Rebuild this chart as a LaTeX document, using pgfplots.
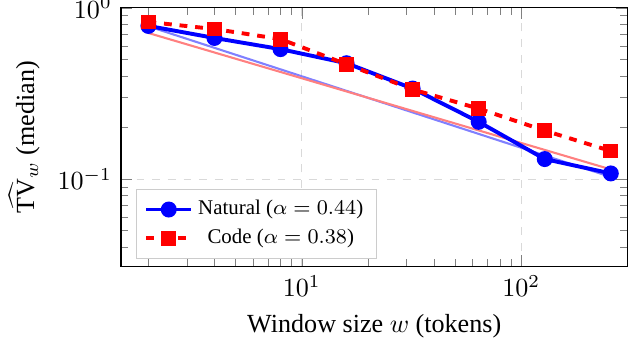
\documentclass[border=0pt]{standalone}
\usepackage{fontspec}
\setmainfont{Liberation Serif}
\usepackage{pgfplots}
\pgfplotsset{compat=1.18}
\begin{document}
\begin{tikzpicture}
\begin{axis}[
  xmode=log, ymode=log,
  scale only axis,
  width=194pt, height=99pt,
  xmin=1.5, xmax=305,
  ymin=0.031, ymax=1,
  grid=major,
  major grid style={dashed, black!15},
  xlabel={Window size $w$ (tokens)},
  ylabel={$\widehat{\mathrm{TV}}_w$ (median)},
  legend pos=south west,
  legend cell align=center,
  legend style={draw=black!20, font=\footnotesize},
]
\addplot[blue!50, line width=0.8pt, forget plot] coordinates {(2,0.78) (256,0.103)};
\addplot[red!50, line width=0.8pt, forget plot] coordinates {(2,0.713) (256,0.114)};
\addplot[blue, line width=1.5pt, mark=*, mark size=2.3pt] coordinates {
(2,0.784) (4,0.667) (8,0.574) (16,0.475) (32,0.338) (64,0.216) (128,0.131) (256,0.108)};
\addlegendentry{Natural ($\alpha=0.44$)}
\addplot[red, line width=1.5pt, dashed, mark=square*, mark size=2.1pt, mark options={solid}] coordinates {
(2,0.827) (4,0.752) (8,0.657) (16,0.468) (32,0.334) (64,0.258) (128,0.192) (256,0.146)};
\addlegendentry{Code ($\alpha=0.38$)}
\end{axis}
\pgfresetboundingbox
\path[use as bounding box] (current axis.outer south west) rectangle ([yshift=3pt]current axis.north -| current axis.outer east);
\end{tikzpicture}
\end{document}
